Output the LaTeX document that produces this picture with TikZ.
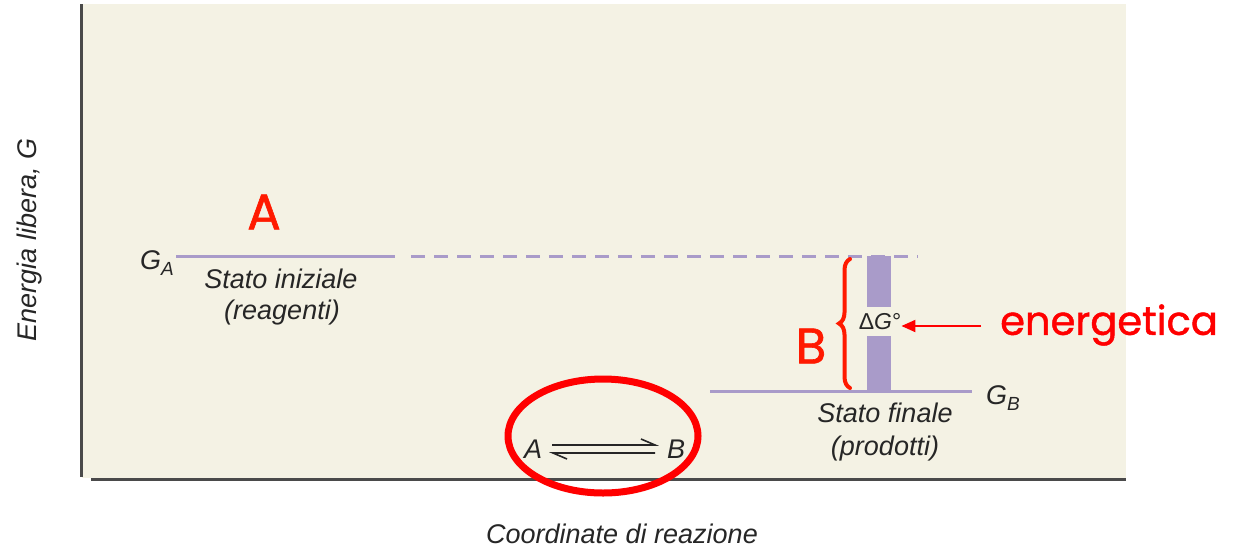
\documentclass[tikz,border=0pt]{standalone}
\usepackage{fontspec}
\setmainfont{Liberation Sans}
\newfontfamily\handfont[FakeBold=1.2]{Poppins}
\usetikzlibrary{decorations.pathreplacing,arrows.meta,shapes.geometric}
\definecolor{paper}{HTML}{F4F2E4}
\definecolor{level}{HTML}{A99BC9}
\definecolor{axisgray}{HTML}{4A4A4A}
\definecolor{handred}{HTML}{FF1A00}
\definecolor{notered}{HTML}{FF0000}
\tikzset{
  lbl/.style={font=\itshape\fontsize{27}{32}\selectfont, text=black!85, inner sep=0pt},
  small/.style={font=\fontsize{23}{27}\selectfont, text=black!85, inner sep=0pt},
  hand/.style={font=\handfont\fontsize{50}{54}\selectfont, text=handred, inner sep=0pt},
  levelline/.style={level, line width=3pt},
  axisline/.style={axisgray, line width=3pt},
}
\begin{document}
\begin{tikzpicture}[x=1pt,y=-1pt]
\useasboundingbox (0,0) rectangle (1239,547);
% plot area
\fill[paper] (82,4) rectangle (1126,478);
\draw[axisline] (81,4) -- (81,477);
\draw[axisline] (91,479) -- (1126,479);
% axis titles
\node[lbl, rotate=90] (ylab) at (30,240) {Energia libera, \textit{G}};
\node[lbl] (xlab) at (622,534) {Coordinate di reazione};
% initial level
\coordinate (ga0) at (176,256);
\coordinate (ga1) at (395,256);
\coordinate (gd0) at (411,256);
\coordinate (gd1) at (918,256);
\draw[levelline] (ga0) -- (ga1);
\draw[levelline, dash pattern=on 14pt off 9pt] (gd0) -- (gd1);
\node[lbl, anchor=east] (GA) at (174,263) {\itshape G\raisebox{-0.4ex}{\fontsize{19}{22}\selectfont A}};
\node[lbl] (si1) at (281,279) {Stato iniziale};
\node[lbl] (si2) at (282,313) {(reagenti)};
% final level
\coordinate (gb0) at (710,391);
\coordinate (gb1) at (972,391);
\draw[levelline] (gb0) -- (gb1);
\node[lbl, anchor=west] (GB) at (986,398) {\itshape G\raisebox{-0.4ex}{\fontsize{19}{22}\selectfont B}};
\node[lbl] (sf1) at (885,413) {Stato finale};
\node[lbl] (sf2) at (885,449) {(prodotti)};
% free-energy difference bar
\fill[level] (867,256) rectangle (891,307);
\fill[level] (867,336) rectangle (891,391);
\node[small] (dG) at (880,322) {Δ\textit{G}\textdegree};
% equilibrium A <=> B
\node[lbl] (eqA) at (533,449) {A};
\node[lbl] (eqB) at (676,449) {B};
\draw[black!85, line width=1.6pt] (552,445) -- (655,445) -- (641,439);
\draw[black!85, line width=1.6pt] (655,453) -- (553,453) -- (567,459);
\node[draw=notered, line width=7pt, ellipse, minimum width=190pt, minimum height=114pt, inner sep=0pt] (circ) at (603,436) {};
% handwritten marks
\node[hand] (bigA) at (264,212) {A};
\node[hand] (bigB) at (811,346) {B};
\coordinate (brbot) at (850,388);
\coordinate (brtop) at (850,259);
\draw[handred, line width=4pt, line cap=round, decorate, decoration={brace, amplitude=11pt, raise=0pt}] (brbot) -- (brtop);
\node[font=\handfont\fontsize{40}{44}\selectfont, text=notered, inner sep=0pt, anchor=west] (en) at (1000,325) {energetica};
\coordinate (arrtail) at (981,326);
\draw[notered, line width=2pt, -{Triangle[length=14pt, width=12pt]}] (arrtail) -- (dG.east |- arrtail);
\end{tikzpicture}
\end{document}
